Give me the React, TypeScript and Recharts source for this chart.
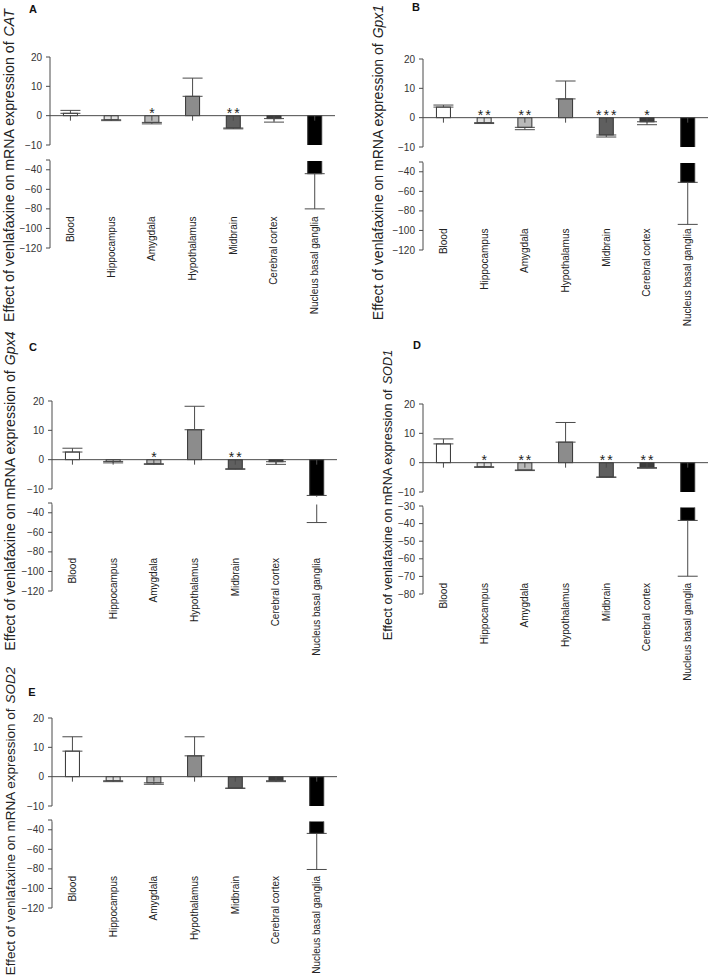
import React from 'react';
import { BarChart, Bar, XAxis, YAxis, ErrorBar, ReferenceLine, Cell } from 'recharts';

// ---------- data ----------
const categories = ['Blood', 'Hippocampus', 'Amygdala', 'Hypothalamus', 'Midbrain', 'Cerebral cortex', 'Nucleus basal ganglia'];
const barColors = ['#ffffff', '#e2e2e2', '#b9b9b9', '#8c8c8c', '#5f5f5f', '#3c3c3c', '#000000'];

const catMean = [0.8, -1.4, -2.3, 6.6, -4.2, -1.0, -44];
const catErr = [1.0, 0.3, 0.5, 6.2, 0.3, 1.2, 36];
const catSig = ['', '', '*', '', '**', '', ''];

const gpx1Mean = [3.6, -1.7, -3.3, 6.4, -5.9, -1.4, -50.8];
const gpx1Err = [0.7, 0.3, 0.8, 6.1, 0.7, 1.0, 43];
const gpx1Sig = ['', '**', '**', '', '***', '*', ''];

const gpx4Mean = [2.6, -0.6, -1.4, 10.2, -3.1, -0.7, -12.2];
const gpx4Err = [1.3, 0.5, 0.2, 8.0, 0.2, 0.9, 37.8];
const gpx4Sig = ['', '', '*', '', '**', '', ''];

const sod1Mean = [6.4, -1.4, -2.5, 7.0, -4.9, -1.7, -38.2];
const sod1Err = [1.7, 0.2, 0.2, 6.7, 0.1, 0.2, 31.7];
const sod1Sig = ['', '*', '**', '', '**', '**', ''];

const sod2Mean = [8.7, -1.4, -2.1, 7.1, -3.9, -1.4, -43.7];
const sod2Err = [4.9, 0.3, 0.5, 6.5, 0.1, 0.3, 36.9];
const sod2Sig = ['', '', '', '', '', '', ''];

const upperTicks = [-10, 0, 10, 20];
const lowerTicks120 = [-120, -100, -80, -60, -40, -30];
const lowerTicks80 = [-80, -70, -60, -50, -40, -30];

const panelLetters = ['A', 'B', 'C', 'D', 'E'];
const geneNames = ['CAT', 'Gpx1', 'Gpx4', 'SOD1', 'SOD2'];
const yTitle = 'Effect of venlafaxine on mRNA expression of';

// ---------- style ----------
const FONT = '"Liberation Sans", Arial, Helvetica, sans-serif';
const AXIS = '#4a4a4a';
const YW = 45; // y-axis width
const PW = 285; // plot width
const PH = 88; // segment height
const MT = 6;
const W = YW + PW + 4;

type Row = { name: string; value: number; err: [number, number]; sig: string };
const buildRows = (mean: number[], err: number[], sig: string[]): Row[] =>
  categories.map((name, i) => ({
    name,
    value: mean[i],
    err: mean[i] >= 0 ? [0, err[i]] : [err[i], 0],
    sig: sig[i],
  }));

type Cfg = {
  rows: Row[];
  axisX: number;
  y20: number;
  lowTop: number;
  uMin: number;
  lowMin: number;
  lowTicks: number[];
  hideTop: boolean;
  labelTop: number;
  yl: { x: number; cy: number; fs: number };
  letter: { x: number; y: number };
  gene: string;
  name: string;
};

const panels: Cfg[] = [
  { rows: buildRows(catMean, catErr, catSig), axisX: 50, y20: 57, lowTop: 159.5, uMin: -10, lowMin: -120, lowTicks: lowerTicks120, hideTop: true, labelTop: 216, yl: { x: 9, cy: 165.5, fs: 14.2 }, letter: { x: 33, y: 13 }, gene: geneNames[0], name: panelLetters[0] },
  { rows: buildRows(gpx1Mean, gpx1Err, gpx1Sig), axisX: 423, y20: 59, lowTop: 161.5, uMin: -10, lowMin: -120, lowTicks: lowerTicks120, hideTop: true, labelTop: 228, yl: { x: 378, cy: 162.5, fs: 14.0 }, letter: { x: 416, y: 11 }, gene: geneNames[1], name: panelLetters[1] },
  { rows: buildRows(gpx4Mean, gpx4Err, gpx4Sig), axisX: 52, y20: 401, lowTop: 503, uMin: -12.5, lowMin: -120, lowTicks: lowerTicks120, hideTop: true, labelTop: 558, yl: { x: 10, cy: 491, fs: 14.2 }, letter: { x: 33, y: 351 }, gene: geneNames[2], name: panelLetters[2] },
  { rows: buildRows(sod1Mean, sod1Err, sod1Sig), axisX: 423, y20: 404, lowTop: 506, uMin: -10, lowMin: -80, lowTicks: lowerTicks80, hideTop: false, labelTop: 583, yl: { x: 388, cy: 495, fs: 12.7 }, letter: { x: 417, y: 349 }, gene: geneNames[3], name: panelLetters[3] },
  { rows: buildRows(sod2Mean, sod2Err, sod2Sig), axisX: 52, y20: 718, lowTop: 820, uMin: -10, lowMin: -120, lowTicks: lowerTicks120, hideTop: true, labelTop: 876, yl: { x: 10, cy: 821, fs: 13.5 }, letter: { x: 32, y: 696 }, gene: geneNames[4], name: panelLetters[4] },
];

const makeShape = (withTick: boolean) => (props: any) => {
  const { x, y, width, height, fill, payload } = props;
  if (x == null || y == null) return <g />;
  const top = Math.min(y, y + height);
  const h = Math.abs(height);
  const base = y + height;
  const cx = x + width / 2;
  return (
    <g>
      {h >= 0.5 && <rect x={x} y={top} width={width} height={h} fill={fill} stroke="#333" strokeWidth={1} />}
      {withTick && <line x1={cx} x2={cx} y1={base} y2={base + 5} stroke={AXIS} strokeWidth={1} />}
      {withTick && payload && payload.sig ? (
        <text x={cx + 1} y={base + 2.5} textAnchor="middle" fontSize={14} letterSpacing={2} fill="#222" fontFamily={FONT}>
          {payload.sig}
        </text>
      ) : null}
    </g>
  );
};

const upperShape = makeShape(true);
const lowerShape = makeShape(false);

const CatTick = (props: any) => {
  const { x, y, payload, off } = props;
  const ty = y + off;
  return (
    <text x={x} y={ty} transform={`rotate(-90 ${x} ${ty})`} textAnchor="end" dominantBaseline="central" fontSize={10} fill="#222" fontFamily={FONT}>
      {payload.value}
    </text>
  );
};

const yTick = { fontSize: 10, fill: '#333', fontFamily: FONT };

// clip the plotting region of each axis segment (broken axis), keep the tick labels on the left
const upperClip = (h: number, ph: number) =>
  `polygon(0px 0px, ${YW}px 0px, ${YW}px ${MT - 0.5}px, ${W}px ${MT - 0.5}px, ${W}px ${MT + ph + 0.5}px, ${YW}px ${MT + ph + 0.5}px, ${YW}px ${h}px, 0px ${h}px)`;
const lowerClip = (h: number) =>
  `polygon(0px 0px, ${YW + 0.5}px 0px, ${YW + 0.5}px ${MT + 1.5}px, ${W}px ${MT + 1.5}px, ${W}px ${h}px, 0px ${h}px)`;

function Panel({ cfg }: { cfg: Cfg }) {
  const upH = (PH * (20 - cfg.uMin)) / 30;
  const chartLeft = cfg.axisX - YW;
  const lowBottom = cfg.lowTop + PH;
  const off = cfg.labelTop - lowBottom;
  const upTotal = MT + upH + 8;
  const lowTotal = MT + PH + 112;
  return (
    <>
      <div style={{ position: 'absolute', left: chartLeft, top: cfg.y20 - MT, width: W, height: upTotal, clipPath: upperClip(upTotal, upH) }}>
        <BarChart width={W} height={upTotal} data={cfg.rows} margin={{ top: MT, right: 4, bottom: 8, left: 0 }} barCategoryGap="33%">
          <XAxis xAxisId="cat" dataKey="name" hide />
          <XAxis xAxisId="num" type="number" domain={[0, 1]} hide />
          <YAxis
            domain={[cfg.uMin, 20]}
            ticks={upperTicks}
            allowDataOverflow
            axisLine={false}
            tickSize={4}
            tickMargin={4}
            tickLine={{ stroke: AXIS }}
            width={YW}
            tick={yTick}
            interval={0}
            tickFormatter={(v: number) => (v < 0 ? `\u2212${Math.abs(v)}` : `${v}`)}
          />
          <Bar xAxisId="cat" dataKey="value" shape={upperShape} isAnimationActive={false}>
            {cfg.rows.map((r, i) => (
              <Cell key={r.name} fill={barColors[i]} />
            ))}
            <ErrorBar dataKey="err" width={10} stroke={AXIS} strokeWidth={1} isAnimationActive={false} />
          </Bar>
          <ReferenceLine xAxisId="num" y={0} stroke={AXIS} strokeWidth={1} />
          <ReferenceLine xAxisId="num" segment={[{ x: 0, y: -10 }, { x: 0, y: 20 }]} stroke={AXIS} strokeWidth={1} ifOverflow="visible" />
        </BarChart>
      </div>
      <div style={{ position: 'absolute', left: chartLeft, top: cfg.lowTop - MT, width: W, height: lowTotal, clipPath: lowerClip(lowTotal) }}>
        <BarChart width={W} height={lowTotal} data={cfg.rows} margin={{ top: MT, right: 4, bottom: 0, left: 0 }} barCategoryGap="33%">
          <XAxis
            xAxisId="cat"
            dataKey="name"
            axisLine={false}
            tickLine={false}
            tickSize={0}
            tickMargin={0}
            height={112}
            interval={0}
            tick={(p: any) => <CatTick {...p} off={off} />}
          />
          <YAxis
            domain={[cfg.lowMin, -30]}
            ticks={cfg.lowTicks}
            allowDataOverflow
            axisLine={{ stroke: AXIS }}
            tickSize={4}
            tickMargin={4}
            tickLine={{ stroke: AXIS }}
            width={YW}
            tick={yTick}
            interval={0}
            tickFormatter={(v: number) => (cfg.hideTop && v === -30 ? '' : `\u2212${Math.abs(v)}`)}
          />
          <Bar xAxisId="cat" dataKey="value" shape={lowerShape} isAnimationActive={false}>
            {cfg.rows.map((r, i) => (
              <Cell key={r.name} fill={barColors[i]} />
            ))}
            <ErrorBar dataKey="err" width={10} stroke={AXIS} strokeWidth={1} isAnimationActive={false} />
          </Bar>
        </BarChart>
      </div>
    </>
  );
}

export default function App() {
  return (
    <div style={{ position: 'relative', width: 709, height: 976, overflow: 'hidden', background: '#fff', fontFamily: FONT }}>
      <style>{'body{margin:0;}'}</style>
      {panels.map((p) => (
        <Panel key={p.name} cfg={p} />
      ))}
      <svg width={709} height={976} style={{ position: 'absolute', left: 0, top: 0, pointerEvents: 'none' }}>
        {panels.map((p) => (
          <g key={p.name}>
            <text x={p.letter.x} y={p.letter.y} fontSize={11} fontWeight="bold" fill="#111" fontFamily={FONT} textAnchor="middle">
              {p.name}
            </text>
            <text
              x={p.yl.x}
              y={p.yl.cy}
              transform={`rotate(-90 ${p.yl.x} ${p.yl.cy})`}
              textAnchor="middle"
              dominantBaseline="central"
              fontSize={p.yl.fs}
              fill="#222"
              fontFamily={FONT}
            >
              {yTitle}
              <tspan dx={5} fontStyle="italic">
                {p.gene}
              </tspan>
            </text>
          </g>
        ))}
      </svg>
    </div>
  );
}
